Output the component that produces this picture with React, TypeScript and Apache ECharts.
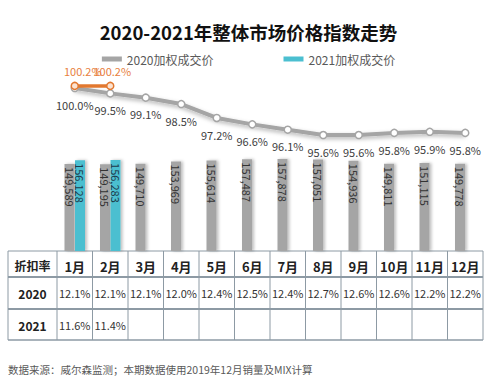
import React, { useEffect, useRef } from "react";
import * as echarts from "echarts";

const months = ["1月", "2月", "3月", "4月", "5月", "6月", "7月", "8月", "9月", "10月", "11月", "12月"];
const price2020 = [149589, 149195, 149710, 153969, 155614, 157487, 157878, 157051, 154936, 149811, 151115, 149778];
const price2021: (number | null)[] = [156128, 156283, null, null, null, null, null, null, null, null, null, null];
const index2020 = [100.0, 99.5, 99.1, 98.5, 97.2, 96.6, 96.1, 95.6, 95.6, 95.8, 95.9, 95.8];
const index2021 = [100.2, 100.2];
const discount2020 = ["12.1%", "12.1%", "12.1%", "12.0%", "12.4%", "12.5%", "12.4%", "12.7%", "12.6%", "12.6%", "12.2%", "12.2%"];
const discount2021 = ["11.6%", "11.4%", "", "", "", "", "", "", "", "", "", ""];
const rowLabels = ["2020", "2021"];
const headerLabel = "折扣率";
const titleText = "2020-2021年整体市场价格指数走势";
const legendNames = ["2020加权成交价", "2021加权成交价"];
const footnote = "数据来源：威尔森监测；本期数据使用2019年12月销量及MIX计算";

const W = 497;
const H = 385;
const FONT = "'Noto Sans CJK SC', 'Microsoft YaHei', sans-serif";

export default function App() {
  const ref = useRef<HTMLDivElement>(null);
  useEffect(() => {
    if (!ref.current) return;
    const chart = echarts.init(ref.current, undefined, { renderer: "svg" });

    const gridLeft = 57;
    const gridRight = 14;
    const gridTop = 70;
    const tableTop = 251;
    const gridBottom = H - tableTop;
    const colW = (W - gridLeft - gridRight) / months.length;
    const tableLeft = 8;
    const rowY = [251, 277, 309, 340];
    const lineColor = "#8D9AA4";

    const graphics: any[] = [];
    const hw = [1, 2, 2, 1.5];
    rowY.forEach((y, i) => {
      graphics.push({
        type: "line",
        shape: { x1: tableLeft, y1: y, x2: W - gridRight, y2: y },
        style: { stroke: lineColor, lineWidth: hw[i] },
      });
    });
    const xs = [tableLeft, gridLeft];
    for (let i = 1; i <= months.length; i++) xs.push(gridLeft + colW * i);
    xs.forEach((x) => {
      graphics.push({
        type: "line",
        shape: { x1: x, y1: rowY[0], x2: x, y2: rowY[3] },
        style: { stroke: lineColor, lineWidth: 1 },
      });
    });
    const rowCenters = [265, 293, 325];
    const firstColCenter = (tableLeft + gridLeft) / 2;
    graphics.push({
      type: "text",
      x: firstColCenter,
      y: rowCenters[0],
      style: { text: headerLabel, font: `bold 12px ${FONT}`, fill: "#222", align: "center", verticalAlign: "middle" },
    });
    rowLabels.forEach((r, i) => {
      graphics.push({
        type: "text",
        x: firstColCenter,
        y: rowCenters[i + 1],
        style: { text: r, font: `bold 12px ${FONT}`, fill: "#222", align: "center", verticalAlign: "middle" },
      });
    });
    months.forEach((m, i) => {
      const cx = gridLeft + colW * (i + 0.5);
      graphics.push({
        type: "text",
        x: cx,
        y: rowCenters[0] + 1,
        style: { text: m, font: `bold 13px ${FONT}`, fill: "#222", align: "center", verticalAlign: "middle" },
      });
      graphics.push({
        type: "text",
        x: cx,
        y: rowCenters[1],
        style: { text: discount2020[i], font: `11px ${FONT}`, fill: "#333", align: "center", verticalAlign: "middle" },
      });
      if (discount2021[i]) {
        graphics.push({
          type: "text",
          x: cx,
          y: rowCenters[2],
          style: { text: discount2021[i], font: `11px ${FONT}`, fill: "#333", align: "center", verticalAlign: "middle" },
        });
      }
    });
    graphics.push({
      type: "text",
      left: 8,
      top: 364,
      style: { text: footnote, font: `10.5px ${FONT}`, fill: "#595959" },
    });

    const barLabel = {
      show: true,
      position: "insideTop" as const,
      rotate: -90,
      align: "left",
      verticalAlign: "middle",
      distance: 3,
      fontSize: 11,
      color: "#333",
      fontFamily: FONT,
      formatter: (p: any) => Number(p.value).toLocaleString("en-US"),
    };

    chart.setOption({
      animation: false,
      textStyle: { fontFamily: FONT },
      title: {
        text: titleText,
        left: "center",
        top: 18,
        textStyle: { fontSize: 18.5, fontWeight: "bold", color: "#111", fontFamily: FONT },
      },
      legend: {
        data: legendNames,
        top: 48,
        left: "center",
        itemWidth: 20,
        itemHeight: 5,
        itemGap: 70,
        icon: "rect",
        textStyle: { fontSize: 12, color: "#595959", fontFamily: FONT },
      },
      grid: { left: gridLeft, right: gridRight, top: gridTop, bottom: gridBottom },
      xAxis: {
        type: "category",
        data: months,
        axisLine: { show: false },
        axisTick: { show: false },
        axisLabel: { show: false },
      },
      yAxis: [
        { type: "value", min: 0, max: 311000, show: false, splitLine: { show: false } },
        { type: "value", min: 84.74, max: 101.69, show: false, splitLine: { show: false } },
      ],
      series: [
        {
          name: legendNames[0],
          type: "bar",
          data: price2020,
          barWidth: 10,
          barGap: "5%",
          itemStyle: { color: "#A5A5A5", shadowColor: "rgba(0,0,0,0.25)", shadowBlur: 3, shadowOffsetX: 2 },
          label: barLabel,
        },
        {
          name: legendNames[1],
          type: "bar",
          data: price2021,
          barWidth: 10,
          itemStyle: { color: "#4BBFD0", shadowColor: "rgba(0,0,0,0.25)", shadowBlur: 3, shadowOffsetX: 2 },
          label: { ...barLabel, color: "#1E3A4A" },
        },
        {
          name: "2020指数",
          type: "line",
          yAxisIndex: 1,
          data: index2020,
          symbol: "circle",
          symbolSize: 7,
          lineStyle: { color: "#A5A5A5", width: 4, shadowColor: "rgba(0,0,0,0.3)", shadowBlur: 4, shadowOffsetY: 2 },
          itemStyle: { color: "#fff", borderColor: "#A5A5A5", borderWidth: 1.5 },
          label: {
            show: true,
            position: "bottom",
            distance: 7,
            fontSize: 11,
            color: "#404040",
            fontFamily: FONT,
            formatter: (p: any) => Number(p.value).toFixed(1) + "%",
          },
          z: 5,
        },
        {
          name: "2021指数",
          type: "line",
          yAxisIndex: 1,
          data: index2021.map((v, i) => (i === 0 ? { value: v, label: { offset: [8, 0] } } : { value: v, label: { offset: [2, 0] } })),
          symbol: "circle",
          symbolSize: 7,
          lineStyle: { color: "#E2782F", width: 3.5 },
          itemStyle: { color: "#FBE3D2", borderColor: "#E2782F", borderWidth: 1.5 },
          label: {
            show: true,
            position: "top",
            distance: 5,
            fontSize: 11,
            color: "#E8803E",
            fontFamily: FONT,
            formatter: (p: any) => Number(p.value).toFixed(1) + "%",
          },
          z: 6,
        },
      ],
      graphic: graphics,
    });
    return () => chart.dispose();
  }, []);
  return <div ref={ref} style={{ position: "fixed", left: 0, top: 0, width: W, height: H, background: "#fff" }} />;
}
